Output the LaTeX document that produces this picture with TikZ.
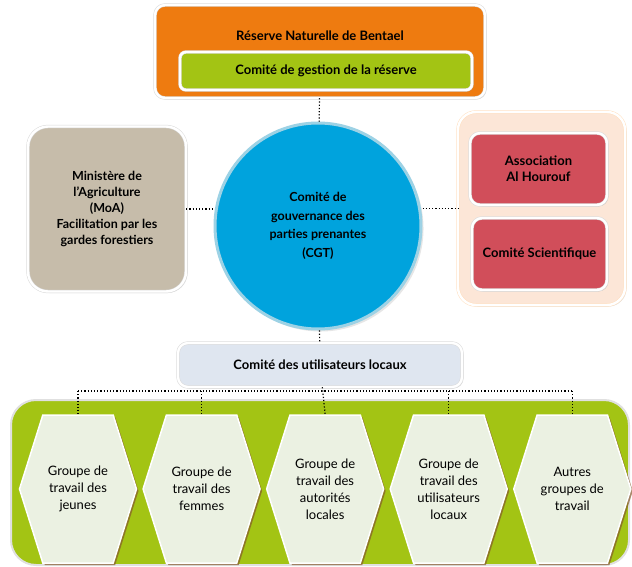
\documentclass[tikz,border=0pt]{standalone}
\usepackage{fontspec}
\setmainfont{Lato}
\usetikzlibrary{positioning,shapes.symbols,shadows}

\definecolor{resorange}{HTML}{EE7B10}
\definecolor{resgreen}{HTML}{A3C414}
\definecolor{cgtblue}{HTML}{00A3DD}
\definecolor{cgtrim}{HTML}{9DD2E5}
\definecolor{moatan}{HTML}{C6BCAA}
\definecolor{partpeach}{HTML}{FCE6D7}
\definecolor{assocred}{HTML}{D14E5A}
\definecolor{locgrey}{HTML}{DFE6F0}
\definecolor{hexfill}{HTML}{EBF1E2}

\begin{document}
\begin{tikzpicture}[
  x=1pt, y=-1pt,
  node distance=5pt,
  frame/.style={draw=black!15, double=white, double distance=2.4pt,
    line width=0.5pt, rounded corners=10pt, align=center,
    font=\bfseries\fontsize{13}{16}\selectfont,
    drop shadow={opacity=0.25, shadow xshift=1.5pt, shadow yshift=-1.5pt}},
  hexa/.style={shape=signal, signal to=west and east, signal pointer angle=145,
    draw=white, line width=1.5pt, fill=hexfill, minimum width=117pt,
    minimum height=148pt, inner sep=1pt, align=center,
    font=\fontsize{13}{17}\selectfont,
    drop shadow={shadow xshift=2pt, shadow yshift=-2pt,
      fill=brown!70!black, opacity=0.7}},
  link/.style={dotted, line width=1.2pt}
]
  \useasboundingbox (0,0) rectangle (632,567);

  % top: reserve
  \node[frame, fill=resorange, minimum width=330pt, minimum height=93pt]
    (reserve) at (320,51.5) {};
  \node[font=\bfseries\fontsize{13}{15}\selectfont] (bentael) at (320,36)
    {Réserve Naturelle de Bentael};
  \node[frame, fill=resgreen, rounded corners=6pt, minimum width=292pt,
    minimum height=38pt] (gestion) at (326,71) {Comité de gestion de la réserve};

  % middle row
  \node[circle, draw=cgtrim, line width=3pt, fill=cgtblue, minimum size=206pt,
    align=center, font=\bfseries\fontsize{12.5}{18.5}\selectfont,
    drop shadow={opacity=0.2}] (cgt) at (318,226)
    {Comité de\\gouvernance des\\parties prenantes\\(CGT)};
  \node[frame, fill=moatan, rounded corners=20pt, minimum width=158pt,
    minimum height=165pt, font=\bfseries\fontsize{12.5}{16}\selectfont]
    (moa) at (107,209)
    {Ministère de\\l'Agriculture\\(MoA)\\Facilitation par les\\gardes forestiers};
  \node[frame, draw=orange!25, fill=partpeach, rounded corners=18pt,
    minimum width=167pt, minimum height=193pt] (partners) at (541.5,208.5) {};
  \node[frame, fill=assocred, minimum width=137pt, minimum height=72pt]
    (hourouf) at (538.5,169) {Association\\Al Hourouf};
  \node[frame, fill=assocred, minimum width=135pt, minimum height=72pt]
    (scient) at (539.5,254) {Comité Scientifique};

  % local users
  \node[frame, fill=locgrey, minimum width=284pt, minimum height=44pt]
    (local) at (320,365) {Comité des utilisateurs locaux};

  % working groups
  \node[draw=black!12, line width=2pt, fill=resgreen, rounded corners=25pt,
    minimum width=618pt, minimum height=165pt] (band) at (320,482.5) {};
  \node[hexa] (jeunes) at (78,489) {Groupe de\\travail des\\jeunes};
  \node[hexa, right=of jeunes] (femmes) {Groupe de\\travail des\\femmes};
  \node[hexa, right=of femmes] (autorites)
    {Groupe de\\travail des\\autorités\\locales};
  \node[hexa, right=of autorites] (usagers)
    {Groupe de\\travail des\\utilisateurs\\locaux};
  \node[hexa, right=of usagers] (autres) {Autres\\groupes de\\travail};

  \coordinate (bus) at (320,391);

  \draw[link] (reserve) -- (cgt);
  \draw[link] (moa.east) -- (moa.east -| cgt.west);
  \draw[link] (partners.west -| cgt.east) -- (partners.west);
  \draw[link] (cgt) -- (local);
  \draw[link] (local) -- (autorites.north);
  \draw[link] (jeunes.north |- bus) -- (autres.north |- bus);
  \foreach \g in {jeunes,femmes,usagers,autres}
    \draw[link] (\g.north |- bus) -- (\g.north);
\end{tikzpicture}
\end{document}
